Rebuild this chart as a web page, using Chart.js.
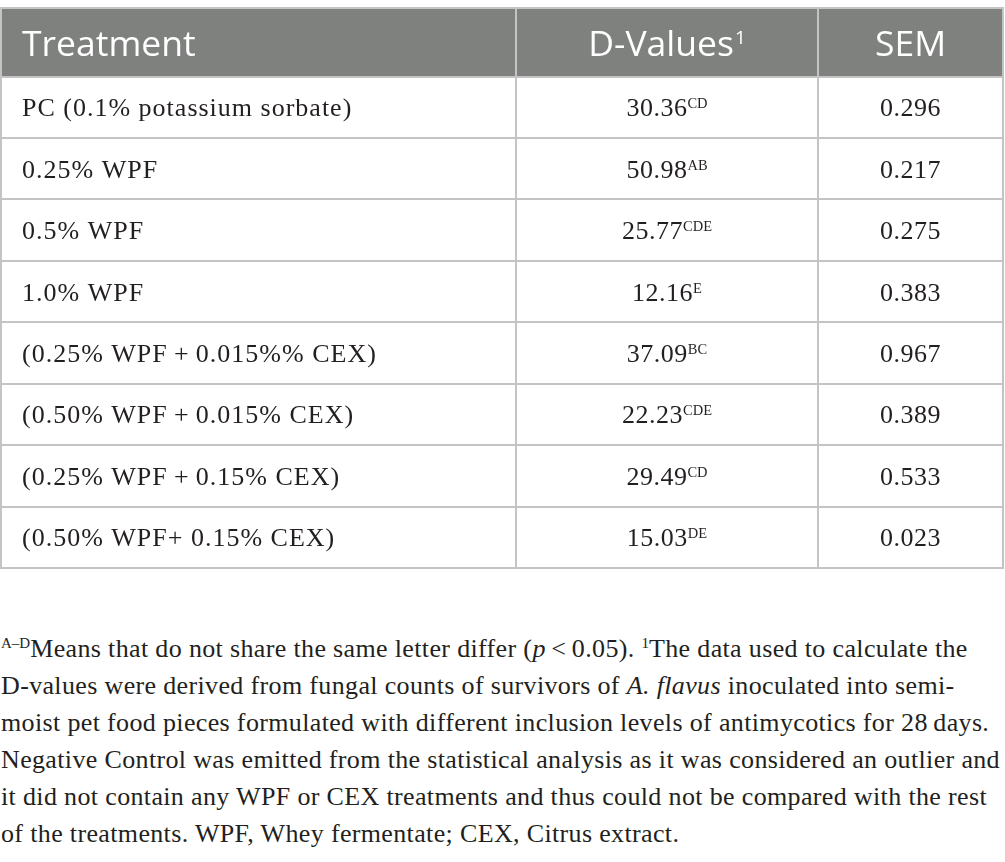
<!DOCTYPE html>
<html>
<head>
<meta charset="utf-8">
<script src="https://cdn.jsdelivr.net/npm/chart.js@4.4.1/dist/chart.umd.min.js"></script>
<style>
  html, body { margin: 0; padding: 0; background: #ffffff; width: 1005px; height: 862px; overflow: hidden; }
  #wrap { position: absolute; left: 0; top: 0; width: 1005px; height: 572px; }
  #note { position: absolute; left: 1px; top: 630px; width: 1004px; font-family: "Liberation Serif", "Times New Roman", serif;
          font-size: 26px; letter-spacing: 0.35px; line-height: 37px; color: #231f20; white-space: nowrap; }
  #note .l { height: 37px; }
  #note sup { font-size: 15px; letter-spacing: 0; vertical-align: 0; position: relative; top: -9px; line-height: 0; }
</style>
</head>
<body>
<div id="wrap"><canvas id="c"></canvas></div>
<div id="note">
  <div class="l"><sup>A–D</sup>Means that do not share the same letter differ (<i>p</i>&thinsp;&lt;&thinsp;0.05). <sup>1</sup>The data used to calculate the</div>
  <div class="l">D-values were derived from fungal counts of survivors of <i>A. flavus</i> inoculated into semi-</div>
  <div class="l">moist pet food pieces formulated with different inclusion levels of antimycotics for 28&thinsp;days.</div>
  <div class="l">Negative Control was emitted from the statistical analysis as it was considered an outlier and</div>
  <div class="l">it did not contain any WPF or CEX treatments and thus could not be compared with the rest</div>
  <div class="l">of the treatments. WPF, Whey fermentate; CEX, Citrus extract.</div>
</div>
<script>
// ---- Data ----
const headers = ["Treatment", "D-Values", "SEM"];
const headerSup = ["", "1", ""];
const treatments = [
  "PC (0.1% potassium sorbate)",
  "0.25% WPF",
  "0.5% WPF",
  "1.0% WPF",
  "(0.25% WPF\u2009+\u20090.015%% CEX)",
  "(0.50% WPF\u2009+\u20090.015% CEX)",
  "(0.25% WPF\u2009+\u20090.15% CEX)",
  "(0.50% WPF+ 0.15% CEX)"
];
const dValues = [30.36, 50.98, 25.77, 12.16, 37.09, 22.23, 29.49, 15.03];
const dLetters = ["CD", "AB", "CDE", "E", "BC", "CDE", "CD", "DE"];
const semValues = [0.296, 0.217, 0.275, 0.383, 0.967, 0.389, 0.533, 0.023];

// ---- Layout constants ----
const COL_EDGES = [1, 516, 818, 1003];
const HEAD_ROWS = 1.116;           // header band height in row units
const ROW_BOUNDS = [-HEAD_ROWS].concat(treatments.map((_, i) => i)).concat([treatments.length]);
const GRID_COLOR = "#c4c4c4";
const HEAD_BG = "#7f817f";
const TEXT_COLOR = "#231f20";
const SANS = '"Open Sans", "Noto Sans", sans-serif';
const SERIF = '"Liberation Serif", "Times New Roman", serif';

const tablePlugin = {
  id: "tableCells",
  beforeDraw(chart) {
    const { ctx, scales: { x, y } } = chart;
    const top = y.getPixelForValue(-HEAD_ROWS), bot = y.getPixelForValue(0);
    ctx.save();
    ctx.fillStyle = HEAD_BG;
    ctx.fillRect(x.getPixelForValue(COL_EDGES[0]), top, x.getPixelForValue(COL_EDGES[3]) - x.getPixelForValue(COL_EDGES[0]), bot - top);
    ctx.restore();
  },
  afterDraw(chart) {
    const { ctx, scales: { x, y } } = chart;
    const colL = i => x.getPixelForValue(COL_EDGES[i]);
    const colC = i => (colL(i) + colL(i + 1)) / 2;
    ctx.save();
    ctx.textBaseline = "alphabetic";
    // header
    const hc = (y.getPixelForValue(-HEAD_ROWS) + y.getPixelForValue(0)) / 2;
    const hb = hc + 13.5;
    ctx.fillStyle = "#ffffff";
    ctx.letterSpacing = "0px";
    headers.forEach((h, i) => {
      ctx.font = "35.5px " + SANS;
      const w = ctx.measureText(h).width;
      ctx.font = "19px " + SANS;
      const sw = headerSup[i] ? ctx.measureText(headerSup[i]).width + 1 : 0;
      const x0 = i === 0 ? colL(0) + 21 : colC(i) - (w + sw) / 2;
      ctx.font = "35.5px " + SANS;
      ctx.fillText(h, x0, hb);
      if (headerSup[i]) {
        ctx.font = "19px " + SANS;
        ctx.fillText(headerSup[i], x0 + w + 1, hb - 11.5);
      }
    });
    // body
    ctx.fillStyle = TEXT_COLOR;
    treatments.forEach((t, r) => {
      const cy = (y.getPixelForValue(r) + y.getPixelForValue(r + 1)) / 2;
      const base = cy + 9;
      ctx.font = "26px " + SERIF;
      ctx.textAlign = "left";
      ctx.letterSpacing = "1px";
      ctx.fillText(t, colL(0) + 21, base);
      // D-value + letters
      ctx.letterSpacing = "0.5px";
      const dv = dValues[r].toFixed(2);
      const w = ctx.measureText(dv).width;
      ctx.font = "14.5px " + SERIF;
      ctx.letterSpacing = "0px";
      const lw = ctx.measureText(dLetters[r]).width;
      const x0 = colC(1) - (w + lw) / 2;
      ctx.font = "26px " + SERIF;
      ctx.letterSpacing = "0.5px";
      ctx.fillText(dv, x0, base);
      ctx.font = "14.5px " + SERIF;
      ctx.letterSpacing = "0px";
      ctx.fillText(dLetters[r], x0 + w, base - 8);
      // SEM
      ctx.font = "26px " + SERIF;
      ctx.letterSpacing = "0.5px";
      ctx.textAlign = "center";
      ctx.fillText(semValues[r].toFixed(3), colC(2), base);
    });
    ctx.restore();
  }
};

new Chart(document.getElementById("c"), {
  type: "scatter",
  data: { datasets: [{ data: [], pointRadius: 0 }] },
  options: {
    responsive: true,
    maintainAspectRatio: false,
    animation: false,
    events: [],
    layout: { padding: { top: 8, bottom: 4, left: 0, right: 1 } },
    plugins: { legend: { display: false }, tooltip: { enabled: false }, title: { display: false } },
    scales: {
      x: {
        type: "linear", min: 0, max: 1004,
        ticks: { display: false },
        border: { display: false },
        grid: { color: GRID_COLOR, lineWidth: 2, drawTicks: false },
        afterBuildTicks: s => { s.ticks = COL_EDGES.map(v => ({ value: v })); },
        afterFit: s => { s.height = 0; }
      },
      y: {
        type: "linear", reverse: true, min: -HEAD_ROWS, max: treatments.length,
        ticks: { display: false },
        border: { display: false },
        grid: { color: GRID_COLOR, lineWidth: 2, drawTicks: false },
        afterBuildTicks: s => { s.ticks = ROW_BOUNDS.map(v => ({ value: v })); },
        afterFit: s => { s.width = 0; }
      }
    }
  },
  plugins: [tablePlugin]
});
</script>
</body>
</html>
